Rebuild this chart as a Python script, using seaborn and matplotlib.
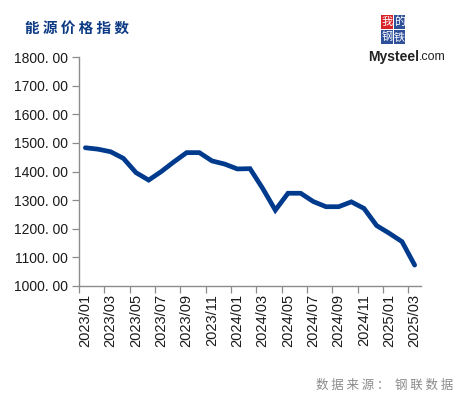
import numpy as np
import pandas as pd
import matplotlib
matplotlib.use("Agg")
import matplotlib.pyplot as plt
import seaborn as sns
from matplotlib.patches import Rectangle

############################ DATA ############################
months = ["2023/01", "2023/02", "2023/03", "2023/04", "2023/05", "2023/06", "2023/07",
          "2023/08", "2023/09", "2023/10", "2023/11", "2023/12", "2024/01", "2024/02",
          "2024/03", "2024/04", "2024/05", "2024/06", "2024/07", "2024/08", "2024/09",
          "2024/10", "2024/11", "2024/12", "2025/01", "2025/02", "2025/03"]
index_values = [1483, 1478, 1469, 1446, 1396, 1370, 1400, 1434, 1466, 1466, 1437, 1426,
                1409, 1410, 1341, 1265, 1324, 1324, 1295, 1277, 1277, 1294, 1271, 1211,
                1184, 1155, 1073]
y_ticks = [1000, 1100, 1200, 1300, 1400, 1500, 1600, 1700, 1800]

title = "能 源 价 格 指 数"
source = "数 据 来 源 ：  钢 联 数 据"

df = pd.DataFrame({"month": months, "value": index_values})
df["pos"] = np.arange(len(df))

############################ STYLE ############################
sns.set_theme(style="white")
plt.rcParams["font.family"] = ["Liberation Sans", "DejaVu Sans"]
line_color = "#003a8c"
axis_color = "#8c8c8c"

fig = plt.figure(figsize=(4.58, 3.97), dpi=100)
ax = fig.add_axes([0.1725, 0.2796, 0.7467, 0.5768])

sns.lineplot(data=df, x="pos", y="value", ax=ax, color=line_color,
             linewidth=3.4, solid_joinstyle="miter", solid_capstyle="round")

ax.set_xlim(-0.5, len(months) - 0.5)
ax.set_ylim(1000, 1800)
ax.set_xlabel("")
ax.set_ylabel("")

# y axis
ax.set_yticks(y_ticks)
ax.set_yticklabels([f"{v}. 00" for v in y_ticks], fontsize=10, color="#1a1a1a")

# x axis: tick marks at category boundaries, labels at category centres
ax.set_xticks(np.arange(-0.5, len(months) - 1, 2))
ax.set_xticklabels([])
ax.set_xticks(np.arange(0, len(months), 2), minor=True)
ax.set_xticklabels(months[::2], minor=True, rotation=90, fontsize=10.5, color="#1a1a1a")
ax.tick_params(axis="x", which="minor", length=0, pad=6)
ax.tick_params(axis="x", which="major", length=5, width=0.9, color=axis_color, direction="out")
ax.tick_params(axis="y", length=5, width=0.9, color=axis_color, direction="out", pad=3)
ax.tick_params(bottom=True, left=True)

sns.despine(ax=ax)
for side in ["left", "bottom"]:
    ax.spines[side].set_color(axis_color)
    ax.spines[side].set_linewidth(1.0)
ax.grid(False)

######################### TITLE / LOGO / SOURCE #########################
fig.text(25 / 458, 1 - 28 / 397, title, fontsize=10.5, fontweight="bold", color="#0d3a84",
         family=["Noto Sans CJK SC", "DejaVu Sans"], ha="left", va="center")

fig.text(453 / 458, 1 - 385 / 397, source, fontsize=9, color="#8a8a8a",
         family=["Noto Sans CJK SC", "DejaVu Sans"], ha="right", va="center")

# logo boxes
box_w, box_h = 12.5 / 458, 15 / 397
x0, y0 = 381 / 458, 1 - 44 / 397
logo_chars = [("钢", 0, 0, "#2e4f9a"), ("铁", 1, 0, "#2e4f9a"),
              ("我", 0, 1, "#d8222a"), ("的", 1, 1, "#2e4f9a")]
for ch, cx, cy, bg in logo_chars:
    bx = x0 + cx * box_w
    by = y0 + cy * box_h
    fig.patches.append(Rectangle((bx, by), box_w * 0.95, box_h * 0.95, transform=fig.transFigure,
                                 facecolor=bg, edgecolor="none"))
    fig.text(bx + box_w * 0.475, by + box_h * 0.475, ch, fontsize=8, color="white",
             family=["Noto Sans CJK SC", "DejaVu Sans"], ha="center", va="center")
fig.text(419 / 458, 1 - 57 / 397, "Mysteel", fontsize=10, fontweight="bold", color="#222222",
         ha="right", va="center")
fig.text(419 / 458, 1 - 57 / 397, ".com", fontsize=9, color="#222222", ha="left", va="center")

fig.savefig("out.png", dpi=100)
